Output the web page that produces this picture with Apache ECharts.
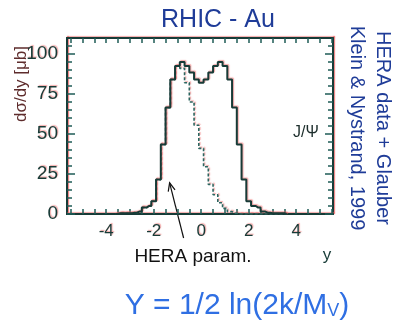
<!DOCTYPE html>
<html>
<head>
<meta charset="utf-8">
<script src="https://cdn.jsdelivr.net/npm/echarts@6/dist/echarts.min.js"></script>
<style>
  html, body { margin: 0; padding: 0; background: #fff; }
  #chart { width: 394px; height: 324px; }
</style>
</head>
<body>
<div id="chart"></div>
<script>
// Bin centres (0.2 wide bins) of the rapidity histograms
const binCenters = [
  -3.6, -3.4, -3.2, -3.0, -2.8, -2.6, -2.4, -2.2, -2.0, -1.8, -1.6, -1.4, -1.2,
  -1.0, -0.8, -0.6, -0.4, -0.2, 0.0, 0.2, 0.4, 0.6, 0.8, 1.0, 1.2, 1.4, 1.6,
  1.8, 2.0, 2.2, 2.4, 2.6, 2.8, 3.0, 3.2, 3.4, 3.6
];
// HERA data + Glauber (solid)
const glauberValues = [
  0, 0.5, 0.5, 0.5, 0.8, 1.5, 4, 5, 8, 21.5, 43.5, 66.5, 84,
  92.5, 95, 92.5, 88.5, 84, 82, 84, 88.5, 92.5, 95, 92.5, 84, 66.5, 43.5,
  21.5, 8, 5, 4, 1.5, 0.8, 0.5, 0.5, 0.5, 0
];
// HERA parametrisation (dashed)
const heraValues = [
  0, 0.5, 0.5, 0.5, 0.8, 1.5, 4, 5, 8, 21.5, 43.5, 66.5, 84,
  92.5, 91, 82, 70, 55.5, 41, 29.5, 18.5, 12, 7, 3.5, 1.5, 0.5, 0,
  0, 0, 0, 0, 0, 0, 0, 0, 0, 0
];

const xTickValues = [-5.5, -5, -4.5, -4, -3.5, -3, -2.5, -2, -1.5, -1, -0.5, 0,
  0.5, 1, 1.5, 2, 2.5, 3, 3.5, 4, 4.5, 5, 5.5];
const xLabelValues = [-4, -2, 0, 2, 4];
const yLabelValues = [0, 25, 50, 75, 100];
const yMinorTicks = [5, 10, 15, 20, 30, 35, 40, 45, 55, 60, 65, 70, 80, 85, 90, 95, 105];

// Arrow annotation: from tail (below the axis) to the tip, in data units
const arrowTail = [-0.74, -15];
const arrowTip = [-1.33, 19.5];

const FRAME = "#173b37";
const TICK = "#1f5c57";
const GHOST = "rgba(235,100,100,0.55)";
const NARROW = "'Liberation Sans Narrow', 'Arial Narrow', 'Liberation Sans', sans-serif";
const SANS = "'Liberation Sans', Arial, sans-serif";

const ghost = { shadowColor: GHOST, shadowBlur: 1, shadowOffsetX: 1, shadowOffsetY: -1 };

function pairs(vals) {
  return binCenters.map((x, i) => [x, vals[i]]);
}

function xAxisDef(pos, showLabels) {
  return {
    type: "value",
    position: pos,
    min: -5.65,
    max: 5.55,
    splitLine: { show: false },
    axisLine: { show: true, onZero: false, lineStyle: { color: FRAME, width: 2, ...ghost } },
    axisTick: { show: true, inside: true, length: 5, customValues: xTickValues,
      lineStyle: { color: TICK, width: 1.5 } },
    axisLabel: { show: showLabels, customValues: xLabelValues, margin: 9,
      color: FRAME, fontSize: 17, fontFamily: NARROW,
      textShadowColor: GHOST, textShadowOffsetX: 1, textShadowOffsetY: -1, textShadowBlur: 1 },
  };
}

function yAxisDef(pos, ticks, len, showLabels) {
  return {
    type: "value",
    position: pos,
    min: 0,
    max: 110,
    splitLine: { show: false },
    axisLine: { show: true, onZero: false, lineStyle: { color: FRAME, width: 2, ...ghost } },
    axisTick: { show: true, inside: true, length: len, customValues: ticks,
      lineStyle: { color: TICK, width: 1.5 } },
    axisLabel: { show: showLabels, customValues: yLabelValues, margin: 9,
      color: FRAME, fontSize: 19, fontFamily: NARROW,
      textShadowColor: GHOST, textShadowOffsetX: 1, textShadowOffsetY: -1, textShadowBlur: 1 },
  };
}

const chart = echarts.init(document.getElementById("chart"));

const option = {
  animation: false,
  backgroundColor: "#ffffff",
  grid: { left: 67, top: 38, width: 266, height: 176 },
  xAxis: [xAxisDef("bottom", true), xAxisDef("top", false)],
  yAxis: [
    yAxisDef("left", yLabelValues, 8, true),
    yAxisDef("left", yMinorTicks, 5, false),
    yAxisDef("right", yLabelValues, 8, false),
    yAxisDef("right", yMinorTicks, 5, false),
  ],
  series: [
    {
      name: "HERA param.",
      type: "line",
      step: "middle",
      data: pairs(heraValues),
      symbol: "none",
      z: 2,
      lineStyle: { color: "#2b6660", width: 1.6, type: [3, 2], ...ghost },
    },
    {
      name: "HERA data + Glauber",
      type: "line",
      step: "middle",
      data: pairs(glauberValues),
      symbol: "none",
      z: 3,
      lineStyle: { color: FRAME, width: 2, ...ghost },
    },
  ],
};

chart.setOption(option);

// Annotations, positioned after the grid exists
const tail = chart.convertToPixel({ gridIndex: 0 }, arrowTail);
const tip = chart.convertToPixel({ gridIndex: 0 }, arrowTip);
const ang = Math.atan2(tail[1] - tip[1], tail[0] - tip[0]);
const headLen = 9;
const head1 = [tip[0] + headLen * Math.cos(ang + 0.4), tip[1] + headLen * Math.sin(ang + 0.4)];
const head2 = [tip[0] + headLen * Math.cos(ang - 0.4), tip[1] + headLen * Math.sin(ang - 0.4)];

chart.setOption({
  graphic: [
    { type: "text", x: 218, y: 20, style: { text: "RHIC - Au", fill: "#1f3c98",
      font: "25px " + SANS, textAlign: "center", textVerticalAlign: "middle" } },
    { type: "text", x: 383, y: 128, rotation: -Math.PI / 2,
      style: { text: "HERA data + Glauber", fill: "#1f3c98", font: "20px " + SANS,
        textAlign: "center", textVerticalAlign: "middle" } },
    { type: "text", x: 357, y: 128, rotation: -Math.PI / 2,
      style: { text: "Klein & Nystrand, 1999", fill: "#1f3c98", font: "20px " + SANS,
        textAlign: "center", textVerticalAlign: "middle" } },
    { type: "text", x: 21, y: 84, rotation: Math.PI / 2,
      style: { text: "dσ/dy [μb]", fill: "#5e2c2c", font: "17px " + SANS,
        textAlign: "center", textVerticalAlign: "middle" } },
    { type: "text", x: 306, y: 133, style: { text: "J/Ψ", fill: "#1d2e2c",
      font: "16px " + NARROW, textAlign: "center", textVerticalAlign: "middle" } },
    { type: "text", x: 327, y: 255, style: { text: "y", fill: FRAME,
      font: "17px " + NARROW, textAlign: "center", textVerticalAlign: "middle" } },
    { type: "text", x: 193, y: 257, style: { text: "HERA param.", fill: "#111111",
      font: "19px " + SANS, textAlign: "center", textVerticalAlign: "middle" } },
    { type: "line", shape: { x1: tail[0], y1: tail[1], x2: tip[0], y2: tip[1] },
      style: { stroke: "#111", lineWidth: 1.2 } },
    { type: "polyline", shape: { points: [head1, tip, head2] },
      style: { stroke: "#111", lineWidth: 1.2, fill: null } },
    { type: "text", x: 237, y: 304,
      style: {
        text: "{a|Y = 1/2 ln(2k/M}{s|V}{a|)}",
        textAlign: "center", textVerticalAlign: "middle",
        rich: {
          a: { fontSize: 30, fontFamily: SANS, fill: "#2f6fe3", color: "#2f6fe3", verticalAlign: "bottom" },
          s: { fontSize: 18, fontFamily: SANS, fill: "#2f6fe3", color: "#2f6fe3", padding: [15, 0, 0, 0] },
        },
      } },
  ],
});
</script>
</body>
</html>
